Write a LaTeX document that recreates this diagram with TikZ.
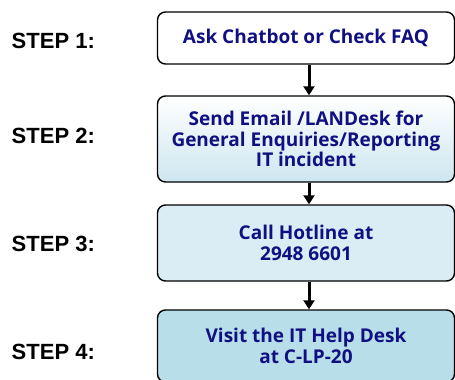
\documentclass[tikz,border=0pt]{standalone}
\usepackage{fontspec}
\setmainfont{Open Sans}
\newfontfamily\labelfont{Liberation Sans}
\usetikzlibrary{arrows.meta,shadings}
\definecolor{navytext}{RGB}{16,16,130}
\definecolor{paleblue}{RGB}{218,237,244}
\definecolor{midblue}{RGB}{184,222,233}
\definecolor{gradblue}{RGB}{205,230,240}

\begin{document}
\begin{tikzpicture}[x=1pt,y=-1pt,thick,
	step box/.style={draw,line width=1.4pt,rounded corners=8pt,minimum width=297pt,align=center,text=navytext,font=\fontsize{19}{20.5}\selectfont\bfseries},
	step label/.style={anchor=west,font=\labelfont\fontsize{22}{24}\selectfont\bfseries},
	flow/.style={line width=3pt,-{Triangle[length=9pt,width=11pt]}}]
	\useasboundingbox (0,0) rectangle (455,380);
	\node[step label] (l1) at (8,41) {STEP 1:};
	\node[step label] (l2) at (8,136) {STEP 2:};
	\node[step label] (l3) at (8,244) {STEP 3:};
	\node[step label] (l4) at (8,352) {STEP 4:};
	\node[step box,fill=white,minimum height=52pt] (1) at (306,38) {Ask Chatbot or Check FAQ};
	\node[step box,top color=white,bottom color=gradblue,minimum height=86pt] (2) at (306,139) {Send Email /LANDesk for\\General Enquiries/Reporting\\IT incident};
	\node[step box,fill=paleblue,minimum height=76pt] (3) at (306,243) {Call Hotline at\\2948 6601};
	\node[step box,fill=midblue,minimum height=72pt] (4) at (306,346) {Visit the IT Help Desk\\at C-LP-20};
	\draw[flow] ([xshift=3pt]1.south) -- ([xshift=3pt]2.north);
	\draw[flow] ([xshift=3pt]2.south) -- ([xshift=3pt]3.north);
	\draw[flow] ([xshift=3pt]3.south) -- ([xshift=3pt]4.north);
\end{tikzpicture}
\end{document}
